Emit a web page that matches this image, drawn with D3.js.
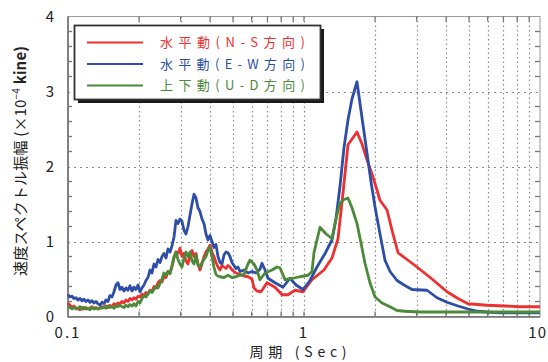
<!DOCTYPE html>
<html>
<head>
<meta charset="utf-8">
<script src="https://cdn.jsdelivr.net/npm/d3@7"></script>
<style>
  html, body { margin: 0; padding: 0; background: #fff; }
  svg { display: block; }
  text { font-family: "Noto Sans CJK JP", "DejaVu Sans", sans-serif; }
</style>
</head>
<body>
<svg id="chart" width="548" height="362"></svg>
<script>
// Velocity response spectra: [period (s), amplitude (x10^-4 kine)]
const nsSeries = [[0.1,0.18],[0.102,0.15],[0.104,0.12],[0.106,0.14],[0.1081,0.11],[0.1102,0.10],[0.1124,0.09],[0.1146,0.12],[0.1169,0.10],[0.1192,0.12],[0.1215,0.10],[0.1239,0.11],[0.1264,0.13],[0.1289,0.11],[0.1314,0.12],[0.134,0.10],[0.1366,0.11],[0.1393,0.13],[0.142,0.12],[0.1448,0.14],[0.1477,0.12],[0.1506,0.15],[0.1536,0.13],[0.1566,0.17],[0.1597,0.15],[0.1629,0.18],[0.1661,0.17],[0.1693,0.20],[0.1727,0.18],[0.1761,0.22],[0.1796,0.20],[0.1831,0.24],[0.1867,0.22],[0.1904,0.25],[0.1941,0.23],[0.198,0.27],[0.2019,0.26],[0.2058,0.30],[0.2099,0.28],[0.214,0.32],[0.2182,0.30],[0.2225,0.35],[0.2269,0.33],[0.2314,0.40],[0.236,0.38],[0.2406,0.45],[0.2454,0.48],[0.2502,0.46],[0.2551,0.54],[0.2602,0.52],[0.2653,0.60],[0.2705,0.58],[0.2758,0.66],[0.2813,0.78],[0.2868,0.86],[0.2925,0.84],[0.2982,0.91],[0.3041,0.80],[0.3101,0.84],[0.3162,0.74],[0.3224,0.70],[0.3288,0.82],[0.3353,0.88],[0.3419,0.80],[0.3486,0.84],[0.3555,0.70],[0.3625,0.62],[0.3696,0.70],[0.3769,0.80],[0.3843,0.86],[0.3919,0.90],[0.3996,0.95],[0.4075,0.86],[0.4155,0.80],[0.4237,0.72],[0.432,0.66],[0.4406,0.62],[0.4492,0.68],[0.4581,0.66],[0.4671,0.64],[0.4763,0.68],[0.4857,0.66],[0.4953,0.62],[0.505,0.60],[0.515,0.58],[0.5355,0.56],[0.5568,0.54],[0.579,0.53],[0.602,0.50],[0.6139,0.38],[0.6321,0.34],[0.6573,0.33],[0.697,0.45],[0.7536,0.39],[0.8072,0.29],[0.8554,0.29],[0.9155,0.35],[0.9903,0.33],[1.081,0.49],[1.215,0.62],[1.314,0.78],[1.394,1.04],[1.462,1.64],[1.536,2.29],[1.677,2.46],[1.761,2.30],[1.849,2.09],[1.961,1.86],[2.099,1.55],[2.248,1.42],[2.36,1.15],[2.503,0.85],[2.733,0.76],[3.011,0.66],[3.486,0.50],[4.035,0.33],[4.493,0.24],[4.953,0.17],[5.962,0.15],[7.106,0.14],[8.227,0.13],[10,0.13]];

const ewSeries = [[0.1,0.29],[0.102,0.26],[0.104,0.27],[0.106,0.24],[0.1081,0.25],[0.1102,0.22],[0.1124,0.24],[0.1146,0.21],[0.1169,0.23],[0.1192,0.20],[0.1215,0.22],[0.1239,0.19],[0.1264,0.21],[0.1289,0.18],[0.1314,0.20],[0.134,0.17],[0.1366,0.15],[0.1393,0.19],[0.142,0.17],[0.1448,0.22],[0.1477,0.20],[0.1506,0.28],[0.1536,0.26],[0.1566,0.33],[0.1597,0.42],[0.1629,0.45],[0.1661,0.36],[0.1693,0.39],[0.1727,0.34],[0.1761,0.38],[0.1796,0.35],[0.1831,0.41],[0.1867,0.34],[0.1904,0.39],[0.1941,0.36],[0.198,0.42],[0.2019,0.33],[0.2058,0.38],[0.2099,0.42],[0.214,0.48],[0.2182,0.52],[0.2225,0.62],[0.2269,0.58],[0.2314,0.70],[0.236,0.66],[0.2406,0.76],[0.2454,0.72],[0.2502,0.80],[0.2551,0.84],[0.2602,0.78],[0.2653,0.90],[0.2705,0.86],[0.2758,0.94],[0.2813,1.06],[0.2868,1.28],[0.2925,1.24],[0.2982,1.30],[0.3041,1.27],[0.3101,1.15],[0.3162,1.10],[0.3224,1.20],[0.3288,1.35],[0.3353,1.50],[0.3419,1.63],[0.3486,1.58],[0.3555,1.45],[0.3625,1.40],[0.3696,1.30],[0.3769,1.24],[0.3843,1.10],[0.3919,1.02],[0.3996,1.08],[0.4075,1.00],[0.4155,0.92],[0.4237,0.96],[0.432,0.80],[0.4406,0.72],[0.4492,0.70],[0.4581,0.82],[0.4671,0.86],[0.4763,0.85],[0.4857,0.80],[0.4953,0.72],[0.505,0.68],[0.515,0.64],[0.5251,0.66],[0.5355,0.60],[0.5568,0.62],[0.579,0.58],[0.602,0.60],[0.626,0.58],[0.6509,0.63],[0.6637,0.71],[0.6836,0.62],[0.7037,0.51],[0.7536,0.45],[0.815,0.39],[0.8722,0.51],[0.9249,0.42],[0.9903,0.36],[1.06,0.48],[1.135,0.66],[1.228,0.84],[1.314,1.02],[1.366,1.30],[1.42,1.73],[1.477,2.25],[1.536,2.62],[1.597,2.90],[1.677,3.13],[1.761,2.65],[1.849,2.18],[1.922,1.80],[2.0,1.46],[2.099,1.10],[2.204,0.75],[2.315,0.60],[2.479,0.48],[2.653,0.42],[2.868,0.36],[3.32,0.35],[3.661,0.25],[4.035,0.19],[4.493,0.14],[4.953,0.10],[5.46,0.07],[5.962,0.06],[6.768,0.05],[10,0.05]];

const udSeries = [[0.1,0.13],[0.102,0.12],[0.104,0.10],[0.106,0.12],[0.1081,0.10],[0.1102,0.11],[0.1124,0.13],[0.1146,0.10],[0.1169,0.12],[0.1192,0.10],[0.1215,0.11],[0.1239,0.09],[0.1264,0.12],[0.1289,0.10],[0.1314,0.11],[0.134,0.10],[0.1366,0.12],[0.1393,0.11],[0.142,0.13],[0.1448,0.11],[0.1477,0.14],[0.1506,0.12],[0.1536,0.13],[0.1566,0.11],[0.1597,0.14],[0.1629,0.13],[0.1661,0.15],[0.1693,0.13],[0.1727,0.12],[0.1761,0.15],[0.1796,0.13],[0.1831,0.16],[0.1867,0.14],[0.1904,0.17],[0.1941,0.14],[0.198,0.20],[0.2019,0.18],[0.2058,0.24],[0.2099,0.28],[0.214,0.26],[0.2182,0.30],[0.2225,0.34],[0.2269,0.32],[0.2314,0.36],[0.236,0.40],[0.2406,0.38],[0.2454,0.44],[0.2502,0.50],[0.2551,0.58],[0.2602,0.55],[0.2653,0.60],[0.2705,0.57],[0.2758,0.68],[0.2813,0.80],[0.2868,0.86],[0.2925,0.76],[0.2982,0.70],[0.3041,0.66],[0.3101,0.78],[0.3162,0.86],[0.3224,0.80],[0.3288,0.86],[0.3353,0.74],[0.3419,0.70],[0.3486,0.82],[0.3555,0.68],[0.3625,0.66],[0.3696,0.72],[0.3769,0.76],[0.3843,0.80],[0.3919,0.88],[0.3996,0.92],[0.4075,0.80],[0.4155,0.66],[0.4237,0.56],[0.432,0.54],[0.4406,0.53],[0.4581,0.52],[0.4763,0.55],[0.4953,0.52],[0.515,0.53],[0.5355,0.55],[0.5568,0.56],[0.579,0.70],[0.5904,0.75],[0.6139,0.70],[0.6321,0.62],[0.6509,0.49],[0.6836,0.58],[0.7318,0.62],[0.7684,0.66],[0.791,0.65],[0.831,0.49],[0.8979,0.51],[0.9617,0.53],[1.04,0.55],[1.081,0.60],[1.102,0.85],[1.169,1.19],[1.24,1.10],[1.314,1.04],[1.366,1.30],[1.42,1.51],[1.477,1.56],[1.536,1.58],[1.597,1.45],[1.677,1.24],[1.744,0.98],[1.813,0.71],[1.903,0.45],[2.0,0.26],[2.141,0.18],[2.315,0.13],[2.479,0.08],[2.68,0.07],[3.101,0.06],[10,0.06]];

const seriesNames = ["水平動(N-S方向)", "水平動(E-W方向)", "上下動(U-D方向)"];
const seriesColors = ["#ee3030", "#2d4ea6", "#4b8a38"];
const xTickValues = [0.1, 1, 10];
const xTickLabels = ["0.1", "1", "10"];
const yTickValues = [0, 1, 2, 3, 4];

const svg = d3.select("#chart");
const x = d3.scaleLog().domain([0.1, 10]).range([68, 540]);
const y = d3.scaleLinear().domain([0, 4]).range([316.5, 16.5]);
const [x0, x1] = x.range();
const [y0, y1] = y.range();

// minor period positions for the grid
const minorX = [];
[0.1, 1].forEach(d => { for (let k = 2; k <= 9; k++) minorX.push(+(d * k).toFixed(2)); });
const gridX = minorX.concat([1]);

// dotted grid
const grid = svg.append("g").attr("stroke", "#8a8a8a").attr("stroke-width", 1.2)
  .attr("stroke-dasharray", "1.5,3").attr("fill", "none");
grid.selectAll("line.gx").data(gridX).join("line")
  .attr("x1", d => Math.round(x(d)) + 0.5).attr("x2", d => Math.round(x(d)) + 0.5)
  .attr("y1", y1).attr("y2", y0);
grid.selectAll("line.gy").data([1, 2, 3]).join("line")
  .attr("x1", x0).attr("x2", x1)
  .attr("y1", d => Math.round(y(d)) + 0.5).attr("y2", d => Math.round(y(d)) + 0.5)
  .attr("stroke-dasharray", "2,4");

// frame
svg.append("rect").attr("x", x0).attr("y", y1).attr("width", x1 - x0).attr("height", y0 - y1)
  .attr("fill", "none").attr("stroke", "#9a9a9a").attr("stroke-width", 1);
svg.append("line").attr("x1", x0).attr("x2", x0).attr("y1", y1).attr("y2", y0 + 1)
  .attr("stroke", "#6e6e6e").attr("stroke-width", 1.6);
svg.append("line").attr("x1", x0).attr("x2", x1).attr("y1", y0 + 0.5).attr("y2", y0 + 0.5)
  .attr("stroke", "#6e6e6e").attr("stroke-width", 1.6);

// inward minor ticks
const yMinor = d3.range(0.2, 4, 0.2).filter(v => Math.abs(v - Math.round(v)) > 0.05);
const ticks = svg.append("g").attr("stroke", "#777").attr("stroke-width", 1.3);
ticks.selectAll("line.yl").data(yMinor).join("line")
  .attr("x1", x0).attr("x2", x0 + 4).attr("y1", d => y(d)).attr("y2", d => y(d));
ticks.selectAll("line.yr").data(yMinor).join("line")
  .attr("x1", x1 - 5).attr("x2", x1).attr("y1", d => y(d)).attr("y2", d => y(d));
ticks.selectAll("line.xb").data(gridX).join("line")
  .attr("x1", d => x(d)).attr("x2", d => x(d)).attr("y1", y0 - 5).attr("y2", y0);
ticks.selectAll("line.xt").data(gridX).join("line")
  .attr("x1", d => x(d)).attr("x2", d => x(d)).attr("y1", y1).attr("y2", y1 + 5);

// tick labels
svg.append("g").selectAll("text").data(yTickValues).join("text")
  .attr("x", 50).attr("y", d => y(d)).attr("dy", "0.36em")
  .attr("text-anchor", "middle").attr("font-size", 15).attr("fill", "#222")
  .text(d => d);
svg.append("g").selectAll("text").data(xTickValues).join("text")
  .attr("x", (d, i) => i === 2 ? 547 : x(d))
  .attr("y", 338)
  .attr("text-anchor", (d, i) => i === 2 ? "end" : "middle")
  .attr("font-size", 15).attr("fill", "#222")
  .attr("letter-spacing", (d, i) => i === 2 ? "1px" : "2px")
  .text((d, i) => xTickLabels[i]);

// axis titles
svg.append("text").attr("x", 298).attr("y", 357).attr("text-anchor", "middle")
  .attr("font-size", 14).attr("fill", "#222")
  .attr("textLength", 97).attr("lengthAdjust", "spacing")
  .text("周期 (Sec)");
const yt = svg.append("text").attr("transform", "translate(26,161) rotate(-90)")
  .attr("text-anchor", "middle").attr("font-size", 15).attr("fill", "#222")
  .attr("textLength", 230).attr("lengthAdjust", "spacing");
yt.append("tspan").text("速度スペクトル振幅 (×10");
yt.append("tspan").attr("dy", -6).attr("font-size", 10).text("−4");
yt.append("tspan").attr("dy", 6).attr("font-weight", "bold").text(" kine)");

// spectra
const line = d3.line().x(d => x(d[0])).y(d => y(d[1]));
const allSeries = [nsSeries, ewSeries, udSeries];
svg.append("g").selectAll("path").data(allSeries).join("path")
  .attr("d", line).attr("fill", "none")
  .attr("stroke", (d, i) => seriesColors[i])
  .attr("stroke-width", 2.8).attr("stroke-linejoin", "round");

// legend
const lg = svg.append("g");
lg.append("rect").attr("x", 78).attr("y", 29).attr("width", 246).attr("height", 74).attr("fill", "#1a1a1a");
lg.append("rect").attr("x", 74.5).attr("y", 25.5).attr("width", 246).attr("height", 74)
  .attr("fill", "#fff").attr("stroke", "#333").attr("stroke-width", 1.8);
const rowY = [42.5, 64, 85.5];
seriesNames.forEach((name, i) => {
  lg.append("line").attr("x1", 87).attr("x2", 143).attr("y1", rowY[i]).attr("y2", rowY[i])
    .attr("stroke", seriesColors[i]).attr("stroke-width", 2);
  lg.append("text").attr("x", 160).attr("y", rowY[i]).attr("dy", "0.36em")
    .attr("font-size", 13).attr("fill", seriesColors[i])
    .attr("textLength", 145).attr("lengthAdjust", "spacing")
    .text(name);
});
</script>
</body>
</html>
